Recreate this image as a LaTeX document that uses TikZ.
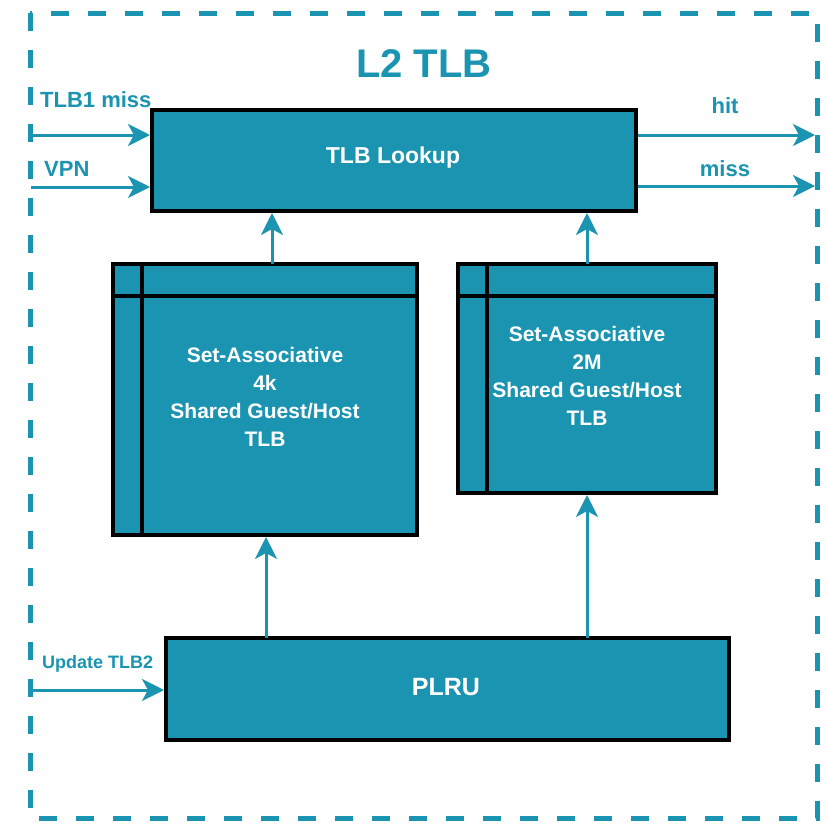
\documentclass[tikz,border=0pt]{standalone}
\usepackage{fontspec}
\setmainfont{Liberation Sans}
\usetikzlibrary{arrows.meta,calc}
\definecolor{tl}{HTML}{1A94B1}
\tikzset{
  blk/.style={draw=black, line width=4pt, fill=tl, inner sep=0pt},
  wtxt/.style={text=white, font=\bfseries\fontsize{21}{28}\selectfont, align=center, inner sep=0pt},
  arr/.style={draw=tl, line width=3pt, -{Stealth[length=22pt,width=22pt,inset=6pt]}},
  lbl/.style={text=tl, font=\bfseries\fontsize{22}{26}\selectfont, inner sep=0pt},
  sep/.style={draw=black, line width=4pt}
}
\begin{document}
\begin{tikzpicture}[x=1pt,y=-1pt]
\useasboundingbox (0,0) rectangle (828,823);
% outer dashed frame
\draw[tl, line width=5pt, dash pattern=on 18pt off 19pt] (30,13) rectangle (817,818);
\node[text=tl, font=\bfseries\fontsize{40}{44}\selectfont, inner sep=0pt] (title) at (424,64) {L2 TLB};
% boxes
\node[blk, minimum width=484pt, minimum height=101pt] (lookup) at (394,160.5) {};
\node[wtxt, font=\bfseries\fontsize{23}{28}\selectfont] (tlook) at (393,158) {TLB Lookup};
\node[blk, minimum width=304pt, minimum height=271pt] (b4k) at (265,399.5) {};
\node[wtxt] (t4k) at (265,397) {Set-Associative\\4k\\Shared Guest/Host\\TLB};
\node[blk, minimum width=258pt, minimum height=229pt] (b2m) at (587,378.5) {};
\node[wtxt] (t2m) at (587,376) {Set-Associative\\2M\\Shared Guest/Host\\TLB};
\node[blk, minimum width=563pt, minimum height=102pt] (plru) at (447.5,689) {};
\node[wtxt, font=\bfseries\fontsize{25}{28}\selectfont] (tplru) at (446,687) {PLRU};
% inner separators
\draw[sep] ([yshift=-34pt]b4k.north west) -- ([yshift=-34pt]b4k.north east);
\draw[sep] ([xshift=31pt]b4k.north west) -- ([xshift=31pt]b4k.south west);
\draw[sep] ([yshift=-34pt]b2m.north west) -- ([yshift=-34pt]b2m.north east);
\draw[sep] ([xshift=31pt]b2m.north west) -- ([xshift=31pt]b2m.south west);
% inputs
\coordinate (in1) at (31,135);
\coordinate (in2) at (31,187);
\coordinate (in3) at (31,690);
\draw[arr] (in1) -- (in1 -| lookup.west);
\draw[arr] (in2) -- (in2 -| lookup.west);
\draw[arr] (in3) -- (in3 -| plru.west);
\node[lbl, anchor=base west] (l1) at (40,107) {TLB1 miss};
\node[lbl, anchor=base west] (l2) at (44,176) {VPN};
\node[text=tl, font=\bfseries\fontsize{18}{20}\selectfont, inner sep=0pt, anchor=base west] (l3) at (42,668) {Update TLB2};
% outputs
\coordinate (o1) at (815,135);
\coordinate (o2) at (815,186);
\draw[arr] (o1 -| lookup.east) -- (o1);
\draw[arr] (o2 -| lookup.east) -- (o2);
\node[lbl, anchor=base] (l4) at (725,113) {hit};
\node[lbl, anchor=base] (l5) at (725,176) {miss};
% vertical arrows
\coordinate (v1) at (272,264);
\coordinate (v2) at (587,264);
\coordinate (v3) at (266,638);
\coordinate (v4) at (587,638);
\draw[arr] (v1) -- (v1 |- lookup.south);
\draw[arr] (v2) -- (v2 |- lookup.south);
\draw[arr] (v3) -- (v3 |- b4k.south);
\draw[arr] (v4) -- (v4 |- b2m.south);
\end{tikzpicture}
\end{document}
